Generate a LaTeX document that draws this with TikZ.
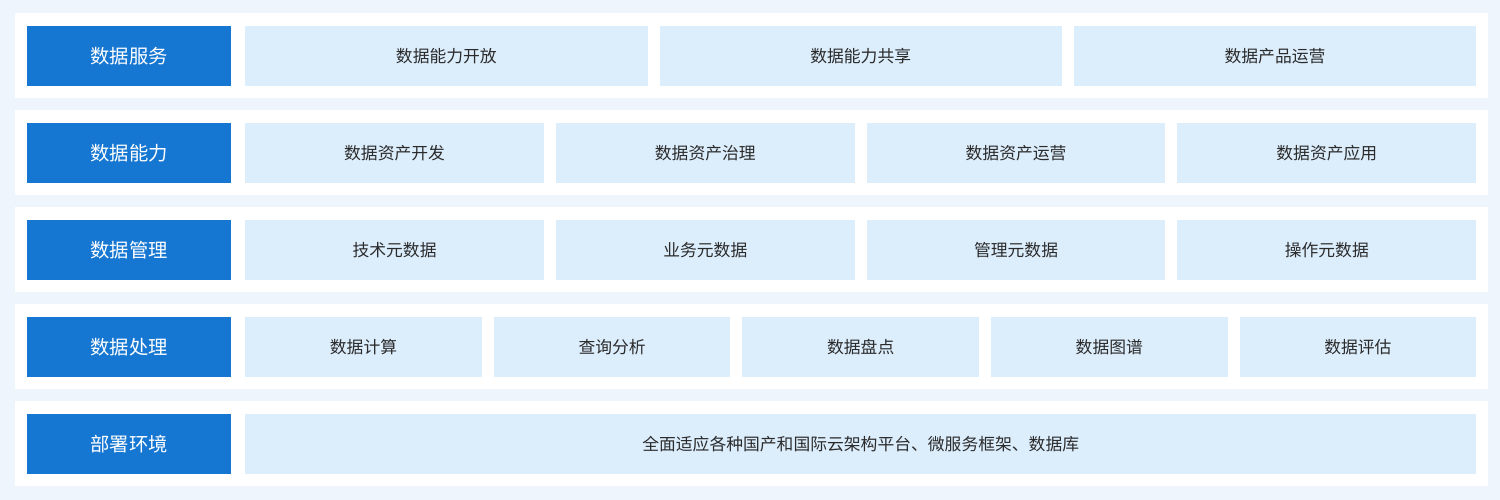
\documentclass[tikz,border=0pt]{standalone}
\usepackage{fontspec}
\setmainfont{Noto Sans CJK SC}
\definecolor{bgc}{HTML}{EEF5FD}
\definecolor{lblc}{HTML}{1677D2}
\definecolor{cellc}{HTML}{DCEDFC}
\definecolor{txtc}{HTML}{2B2B2B}
\tikzset{
  rowbox/.style={fill=white, draw=none, minimum height=85pt, minimum width=1473pt, inner sep=0pt, anchor=north west},
  lblbox/.style={fill=lblc, text=white, minimum height=60pt, minimum width=204pt, inner sep=0pt, anchor=north west, font=\fontsize{19.3pt}{21pt}\selectfont},
  cellbox/.style={fill=cellc, text=txtc, minimum height=60pt, inner sep=0pt, anchor=north west, font=\fontsize{16.8pt}{19pt}\selectfont},
}
\newcommand{\cellrow}[4]{% #1 row index, #2 count, #3 prefix, #4 list
  \pgfmathsetmacro{\cw}{(1231-12*(#2-1))/#2}
  \foreach \t [count=\i] in {#4} {
    \pgfmathsetmacro{\cx}{245+(\i-1)*(\cw+12)}
    \node[cellbox, minimum width=\cw pt] (#3\i) at (\cx pt, {-(13.5+#1*97+12)*1pt}) {\t};
  }
}
\begin{document}
\begin{tikzpicture}[x=1pt,y=-1pt]
\fill[bgc] (0,0) rectangle (1500,500);
\useasboundingbox (0,0) rectangle (1500,500);
\foreach \lbl [count=\r from 0] in {数据服务,数据能力,数据管理,数据处理,部署环境} {
  \node[rowbox] (row\r) at (15pt, {-(13+\r*97)*1pt}) {};
  \node[lblbox] (lbl\r) at (27pt, {-(13.5+\r*97+12)*1pt}) {\lbl};
}
\cellrow{0}{3}{a}{数据能力开放,数据能力共享,数据产品运营}
\cellrow{1}{4}{b}{数据资产开发,数据资产治理,数据资产运营,数据资产应用}
\cellrow{2}{4}{c}{技术元数据,业务元数据,管理元数据,操作元数据}
\cellrow{3}{5}{d}{数据计算,查询分析,数据盘点,数据图谱,数据评估}
\cellrow{4}{1}{e}{全面适应各种国产和国际云架构平台、微服务框架、数据库}
\end{tikzpicture}
\end{document}
